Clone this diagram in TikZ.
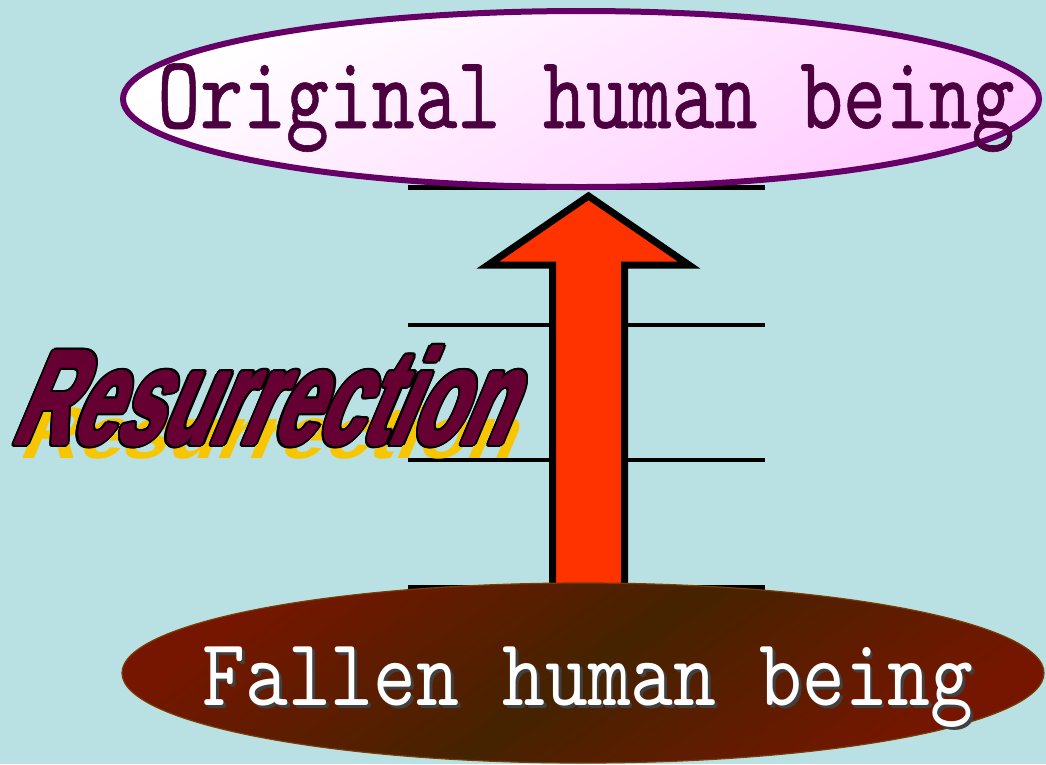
\documentclass[tikz,border=0pt]{standalone}
\usepackage{fontspec}
\usepackage{graphicx}
\usepackage{tikz}
\usetikzlibrary{shapes.geometric,calc}
\newfontfamily\artfont{Liberation Sans}
\newfontfamily\ovalfont{lmmono10-regular.otf}[FakeBold=0.6]
\newfontfamily\lowfont{lmmono10-regular.otf}
\definecolor{rsSky}{HTML}{B9E0E3}
\definecolor{rsPlum}{HTML}{660066}
\definecolor{rsInk}{HTML}{4D0040}
\definecolor{rsBlush}{HTML}{FFCCFF}
\definecolor{rsRust}{HTML}{761600}
\definecolor{rsEarth}{HTML}{452300}
\definecolor{rsRim}{HTML}{7A3D00}
\definecolor{rsFlame}{HTML}{FF3300}
\definecolor{rsWine}{HTML}{660033}
\definecolor{rsGold}{HTML}{F7C600}
\newcommand{\dropshadow}[2]{\makebox[0pt]{\hspace*{7pt}\raisebox{-3pt}{\color{#1}#2}}\makebox[0pt]{#2}}
\newcommand{\wordart}{\scalebox{0.6}[1]{\fontsize{134}{140}\selectfont\artfont\bfseries Resurrection}}
\tikzset{
  oval/.style={ellipse,inner sep=0pt,minimum width=916pt,minimum height=176pt,text depth=0pt},
  ideal oval/.style={oval,draw=rsPlum,line width=6pt,top color=white,bottom color=rsBlush,
    shading angle=30,text=rsInk,text height=58pt},
  fallen oval/.style={oval,draw=rsRim,line width=1.2pt,top color=rsRust,bottom color=rsRust,
    middle color=rsEarth,shading angle=35,text=white,text height=64pt,minimum width=922pt,minimum height=180pt},
  rung/.style={line width=4.5pt},
  rise arrow/.style={draw=black,line width=7pt,fill=rsFlame,line join=miter},
  wordart face/.style={anchor=base west,inner sep=0pt,text=rsWine},
  wordart edge/.style={wordart face,text=black},
  wordart shadow/.style={wordart face,text=rsGold}
}
\begin{document}
\begin{tikzpicture}[x=1pt,y=-1pt]
\fill[rsSky] (0,0) rectangle (1046,764);
\useasboundingbox (0,0) rectangle (1046,764);
% ladder behind the arrow
\foreach \y in {187.5,325,460,587.5}
  \draw[rung] (408,\y) -- (765,\y);
\coordinate (tip) at (588.5,196);
\draw[rise arrow] (tip) -- ++(100.5,69) -- ++(-64.5,0) -- ++(0,350) -- ++(-72,0)
  -- ++(0,-350) -- ++(-64.5,0) -- cycle;
\node[fallen oval] (fallen) at (583,673)
  {\makebox[0pt]{\hspace*{10pt}\scalebox{0.85}[1]{\fontsize{96}{100}\selectfont\lowfont\dropshadow{black!75}{Fallen human being}}}};
\node[ideal oval] (original) at (581,99)
  {\makebox[0pt]{\hspace*{10pt}\scalebox{0.785}[1]{\fontsize{104}{110}\selectfont\ovalfont Original human being}}};
% word art label
\begin{scope}[shift={(17,458)},xslant=0.42,yscale=0.55,transform shape]
  \node[wordart shadow] (resshadow) at (0,0) {\wordart};
\end{scope}
\begin{scope}[shift={(10,444)},xslant=0.42,transform shape]
  \foreach \a [count=\k] in {0,22.5,...,337.5}
    \node[wordart edge] (resedge\k) at (\a:3.4) {\wordart};
  \foreach \a [count=\k] in {0,45,...,315}
    \node[wordart face] (resbody\k) at (\a:1.2) {\wordart};
  \node[wordart face] (resurrection) at (0,0) {\wordart};
\end{scope}
\end{tikzpicture}
\end{document}
